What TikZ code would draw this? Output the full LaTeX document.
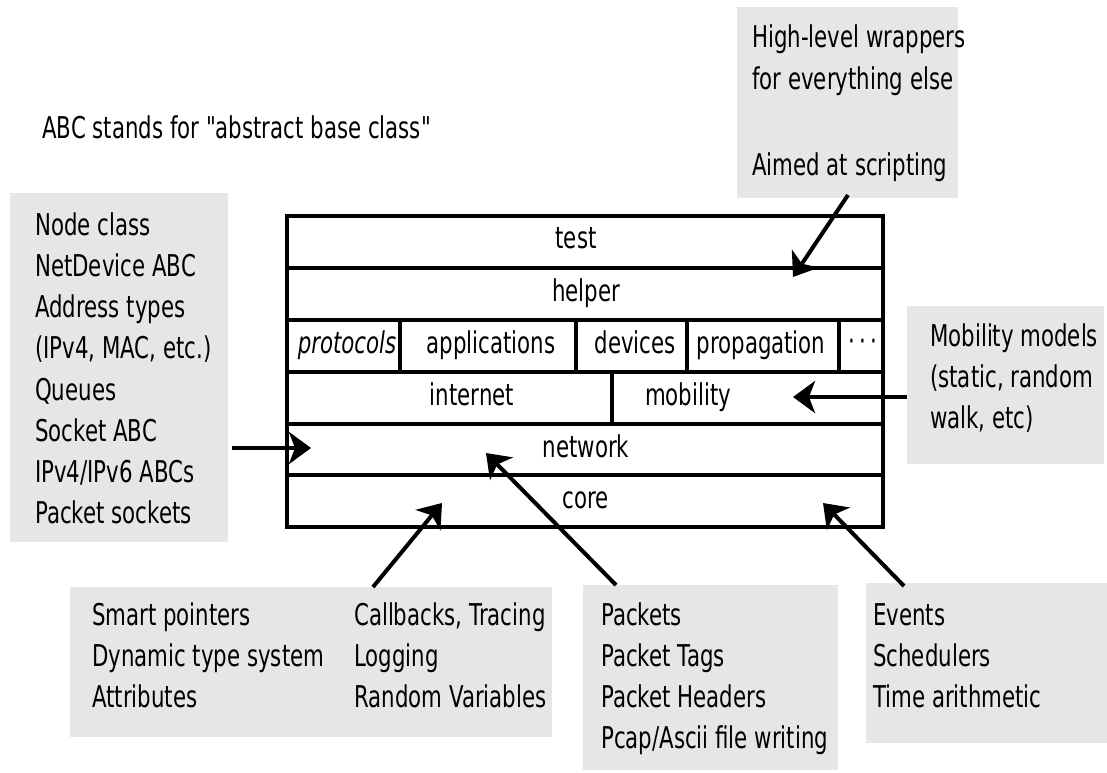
\documentclass[tikz,border=0pt]{standalone}
\usepackage{fontspec}
\setmainfont{DejaVu Sans}[FakeStretch=0.71, Ligatures=TeXOff]
\usetikzlibrary{arrows.meta}

\definecolor{notegray}{HTML}{E6E6E6}

\tikzset{
  cell/.style={draw=black, line width=4pt, anchor=north west, inner sep=0pt,
               minimum height=52pt},
  label/.style={anchor=base, inner sep=0pt},
  note/.style={fill=notegray, draw=none, anchor=north west, inner sep=0pt},
  notetext/.style={anchor=north west, inner sep=0pt, align=left},
  pointer/.style={line width=4pt, -{Stealth[length=22pt,width=32pt,inset=6pt]}}
}

\begin{document}
\begin{tikzpicture}[x=1pt, y=-1pt, font=\fontsize{30}{41.2}\selectfont]
\useasboundingbox (0,0) rectangle (1107,772);

% grey note panels
\node[note, minimum width=221pt, minimum height=191pt] (wrapbox) at (737,7) {};
\node[note, minimum width=218pt, minimum height=349pt] (netbox) at (10,193) {};
\node[note, minimum width=197pt, minimum height=158pt] (mobbox) at (907,306) {};
\node[note, minimum width=482pt, minimum height=150pt] (corebox) at (70,587) {};
\node[note, minimum width=255pt, minimum height=185pt] (pktbox) at (583,585) {};
\node[note, minimum width=241pt, minimum height=160pt] (simbox) at (866,583) {};

% note texts
\node[anchor=base west, inner sep=0pt] (abc) at (42,138) {ABC stands for "abstract base class"};
\node[notetext, font=\fontsize{30}{42.7}\selectfont] (wraptext) at (752,17.1) {\strut High-level wrappers\\for everything else\\\mbox{}\\Aimed at scripting};
\node[notetext] (nettext) at (35,206.2) {\strut Node class\\NetDevice ABC\\Address types\\(IPv4, MAC, etc.)\\Queues\\Socket ABC\\IPv4/IPv6 ABCs\\Packet sockets};
\node[notetext] (mobtext) at (930,317.2) {\strut Mobility models\\(static, random\\walk, etc)};
\node[notetext] (coretextA) at (92,596.2) {\strut Smart pointers\\Dynamic type system\\Attributes};
\node[notetext] (coretextB) at (354,596.2) {\strut Callbacks, Tracing\\Logging\\Random Variables};
\node[notetext] (pkttext) at (601,596.2) {\strut Packets\\Packet Tags\\Packet Headers\\Pcap/Ascii file writing};
\node[notetext] (simtext) at (873,596.2) {\strut Events\\Schedulers\\Time arithmetic};

% module stack
\node[cell, minimum width=596pt] (test) at (285,214) {};
\node[cell, minimum width=596pt] (helper) at (285,266) {};
\node[cell, minimum width=113pt] (protocols) at (285,318) {};
\node[cell, minimum width=176pt] (applications) at (398,318) {};
\node[cell, minimum width=111pt] (devices) at (574,318) {};
\node[cell, minimum width=152pt] (propagation) at (685,318) {};
\node[cell, minimum width=44pt] (more) at (837,318) {};
\node[cell, minimum width=325pt] (internet) at (285,370) {};
\node[cell, minimum width=271pt] (mobility) at (610,370) {};
\node[cell, minimum width=596pt, minimum height=51pt] (network) at (285,422) {};
\node[cell, minimum width=596pt] (core) at (285,473) {};

% module names
\node[label] (testL) at (576,248) {test};
\node[label] (helperL) at (586,301) {helper};
\node[label] (protocolsL) at (347,353) {\itshape protocols};
\node[label] (applicationsL) at (491,353) {applications};
\node[label] (devicesL) at (635,353) {devices};
\node[label] (propagationL) at (761,353) {propagation};
\node[label] (moreL) at (863,351) {·\kern4pt·\kern4pt·};
\node[label] (internetL) at (472,405) {internet};
\node[label] (mobilityL) at (688,405) {mobility};
\node[label] (networkL) at (586,457) {network};
\node[label] (coreL) at (586,508) {core};

% arrow end points
\coordinate (wrapS) at (848,195);
\coordinate (wrapT) at (793,277);
\coordinate (netS) at (232,448);
\coordinate (netT) at (311,448);
\coordinate (mobS) at (907,397);
\coordinate (mobT) at (793,397);
\coordinate (coreS) at (373,587);
\coordinate (coreT) at (442,503);
\coordinate (pktS) at (616,585);
\coordinate (pktT) at (486,453);
\coordinate (simS) at (904,586);
\coordinate (simT) at (823,503);

\draw[pointer] (wrapS) -- (wrapT);
\draw[pointer] (netS) -- (netT);
\draw[pointer] (mobS) -- (mobT);
\draw[pointer] (coreS) -- (coreT);
\draw[pointer] (pktS) -- (pktT);
\draw[pointer] (simS) -- (simT);
\end{tikzpicture}
\end{document}
